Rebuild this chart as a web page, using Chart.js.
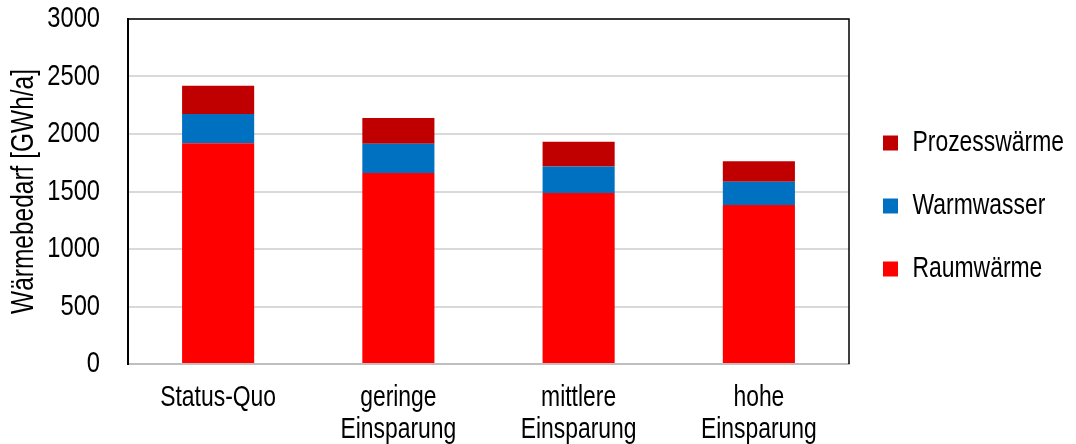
<!DOCTYPE html>
<html>
<head>
<meta charset="utf-8">
<script src="https://cdn.jsdelivr.net/npm/chart.js@4/dist/chart.umd.min.js"></script>
<style>
html,body{margin:0;padding:0;background:#fff;}
#c{display:block;}
</style>
</head>
<body>
<canvas id="c" width="1076" height="444"></canvas>
<script>
const categories = [["Status-Quo"], ["geringe", "Einsparung"], ["mittlere", "Einsparung"], ["hohe", "Einsparung"]];
const raumwaerme = [1920, 1660, 1486, 1382];
const warmwasser = [255, 255, 231, 202];
const prozesswaerme = [245, 225, 215, 180];
const yTicks = [0, 500, 1000, 1500, 2000, 2500, 3000];
const yTitle = "Wärmebedarf [GWh/a]";

const FONT = "'Liberation Sans', Arial, sans-serif";
const NARROW = 0.79; // the reference uses a narrow (Arial Narrow-like) face

const canvas = document.getElementById('c');
const ctx = canvas.getContext('2d');
// emulate a narrow typeface by compressing text horizontally
const origFill = ctx.fillText.bind(ctx);
const origMeasure = ctx.measureText.bind(ctx);
ctx.fillText = function (text, x, y, maxWidth) {
  this.save();
  this.translate(x, y);
  this.scale(NARROW, 1);
  if (maxWidth !== undefined) origFill(text, 0, 0, maxWidth / NARROW);
  else origFill(text, 0, 0);
  this.restore();
};
ctx.measureText = function (text) {
  const m = origMeasure(text);
  return {
    width: m.width * NARROW,
    actualBoundingBoxLeft: m.actualBoundingBoxLeft * NARROW,
    actualBoundingBoxRight: m.actualBoundingBoxRight * NARROW,
    actualBoundingBoxAscent: m.actualBoundingBoxAscent,
    actualBoundingBoxDescent: m.actualBoundingBoxDescent,
    fontBoundingBoxAscent: m.fontBoundingBoxAscent,
    fontBoundingBoxDescent: m.fontBoundingBoxDescent
  };
};

const frame = {
  id: 'frame',
  afterDatasetsDraw(chart) {
    const {ctx, chartArea: a} = chart;
    ctx.save();
    ctx.strokeStyle = '#000';
    ctx.lineWidth = 1.5;
    ctx.beginPath();
    ctx.moveTo(a.left, a.top);
    ctx.lineTo(a.right, a.top);
    ctx.lineTo(a.right, a.bottom);
    ctx.stroke();
    ctx.restore();
  }
};

new Chart(ctx, {
  type: 'bar',
  data: {
    labels: categories,
    datasets: [
      {label: 'Raumwärme', data: raumwaerme, backgroundColor: '#FF0000'},
      {label: 'Warmwasser', data: warmwasser, backgroundColor: '#0070C0'},
      {label: 'Prozesswärme', data: prozesswaerme, backgroundColor: '#C00000'}
    ]
  },
  options: {
    responsive: false,
    animation: false,
    devicePixelRatio: 1,
    categoryPercentage: 1,
    barPercentage: 0.4,
    layout: {padding: {top: 19, right: 2, bottom: 0, left: 0}},
    plugins: {
      legend: {
        position: 'right',
        reverse: true,
        align: 'center',
        fullSize: false,
        title: {display: true, text: '', font: {size: 10, lineHeight: 1}, padding: {top: 19, bottom: 0}},
        labels: {
          boxWidth: 15, boxHeight: 15, padding: 34, color: '#000',
          font: {family: FONT, size: 29}
        }
      },
      tooltip: {enabled: false}
    },
    scales: {
      x: {
        stacked: true,
        grid: {display: false, drawTicks: false},
        border: {color: '#bfbfbf', width: 2},
        ticks: {color: '#000', padding: 18, font: {family: FONT, size: 29, lineHeight: 1.1}},
        afterFit(scale) { scale.height = 80; }
      },
      y: {
        stacked: true,
        min: 0, max: 3000,
        afterBuildTicks(scale) { scale.ticks = yTicks.map(v => ({value: v})); },
        grid: {color: '#d9d9d9', lineWidth: 2, drawTicks: true, tickLength: 28, tickColor: 'rgba(0,0,0,0)'},
        border: {color: '#000', width: 2},
        ticks: {color: '#000', padding: 0, font: {family: FONT, size: 30}, callback: v => String(v)},
        title: {display: true, text: yTitle, color: '#000', padding: {top: 6, bottom: 0}, font: {family: FONT, size: 31}},
        afterFit(scale) { scale.width = 128; }
      }
    }
  },
  plugins: [frame]
});
</script>
</body>
</html>
